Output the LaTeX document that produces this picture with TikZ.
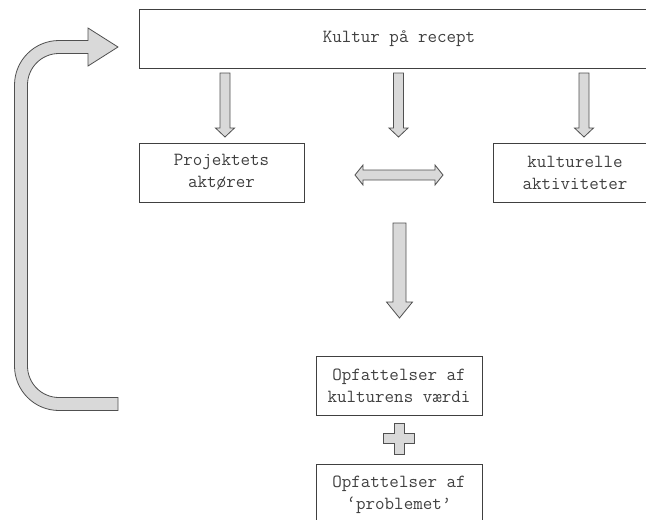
\documentclass[tikz,border=0pt]{standalone}
\usepackage{fontspec}
\usetikzlibrary{positioning}
\definecolor{boxline}{HTML}{404040}
\definecolor{boxtext}{HTML}{404040}
\definecolor{arrowfill}{HTML}{D9D9D9}
\definecolor{arrowline}{HTML}{505050}
\tikzstyle{box} = [draw=boxline, line width=1pt, rectangle, align=center, text=boxtext, font=\ttfamily\fontsize{18.5}{22}\selectfont, minimum height=59pt, inner sep=0pt]
\tikzstyle{blockarrow} = [draw=arrowline, fill=arrowfill, line width=0.8pt, line join=miter]

\begin{document}
\begin{tikzpicture}[
            x = 1pt, y = -1pt % pixel grid, y pointing down
        ]

        \clip (0,0) rectangle (646,520);

        \node[box, minimum width=520pt] (recept) at (399,38.5) {Kultur på recept};
        \node[box, minimum width=165pt] (aktoerer) at (221.5,172.5) {Projektets\\aktører};
        \node[box, minimum width=164pt] (aktiviteter) at (575,172.5) {kulturelle\\aktiviteter};
        \node[box, minimum width=166pt] (vaerdi) at (399,385.5) {Opfattelser af\\kulturens værdi};
        \node[box, minimum width=166pt, minimum height=62pt] (problem) [below=48pt of vaerdi] {Opfattelser af\\‘problemet’};

        % arrows from the top box
        \draw[blockarrow] (220,73) -- ++(10,0) -- ++(0,55) -- ++(4.5,0) -- ++(-9.5,9) -- ++(-9.5,-9) -- ++(4.5,0) -- cycle;
        \draw[blockarrow] (393.5,73) -- ++(10,0) -- ++(0,55) -- ++(4.5,0) -- ++(-9.5,9) -- ++(-9.5,-9) -- ++(4.5,0) -- cycle;
        \draw[blockarrow] (579,73) -- ++(10,0) -- ++(0,55) -- ++(4.5,0) -- ++(-9.5,9) -- ++(-9.5,-9) -- ++(4.5,0) -- cycle;

        % double arrow between the two boxes
        \draw[blockarrow] (355,175) -- ++(8,-10) -- ++(0,5) -- ++(72,0) -- ++(0,-5) -- ++(8,10)
            -- ++(-8,10) -- ++(0,-5) -- ++(-72,0) -- ++(0,5) -- cycle;

        % big arrow down
        \draw[blockarrow] (393,223) -- ++(13,0) -- ++(0,79) -- ++(6.5,0) -- ++(-13,16) -- ++(-13,-16) -- ++(6.5,0) -- cycle;

        % plus
        \draw[blockarrow] (394,423) -- ++(10,0) -- ++(0,10.5) -- ++(10.5,0) -- ++(0,10) -- ++(-10.5,0) -- ++(0,10.5)
            -- ++(-10,0) -- ++(0,-10.5) -- ++(-10.5,0) -- ++(0,-10) -- ++(10.5,0) -- cycle;

        % loop back to the top
        \draw[blockarrow] (118,397.5) -- (59,397.5)
            .. controls (41.6,397.5) and (27.5,383.4) .. (27.5,366) -- (27.5,85)
            .. controls (27.5,67.6) and (41.6,53.5) .. (59,53.5) -- (88,53.5) -- (88,66) -- (118,47)
            -- (88,28) -- (88,40.5) -- (59,40.5)
            .. controls (34.4,40.5) and (14.5,60.4) .. (14.5,85) -- (14.5,366)
            .. controls (14.5,390.6) and (34.4,410.5) .. (59,410.5) -- (118,410.5) -- cycle;

    \end{tikzpicture}
\end{document}
